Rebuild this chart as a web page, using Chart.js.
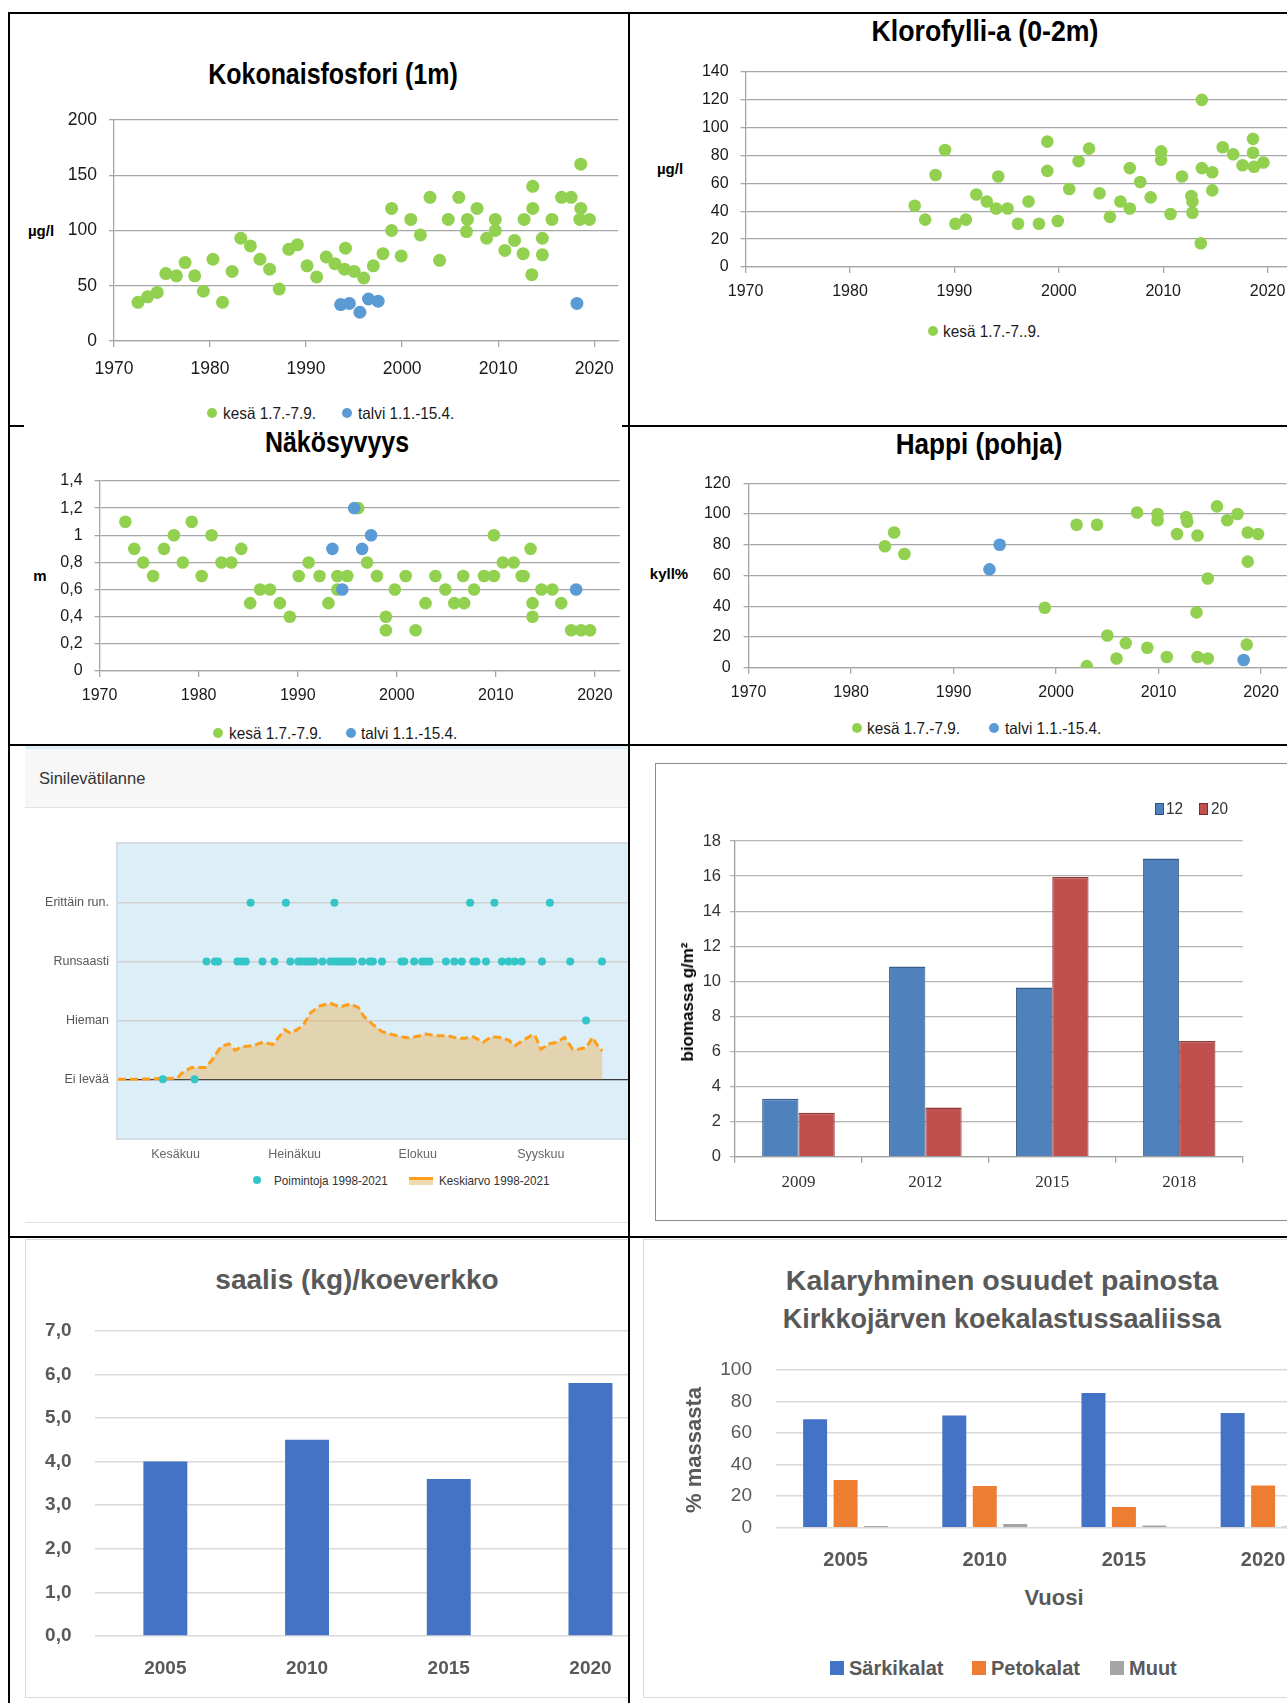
<!DOCTYPE html>
<html><head><meta charset="utf-8">
<script src="https://cdn.jsdelivr.net/npm/chart.js@4/dist/chart.umd.min.js"></script>
<style>
html,body{margin:0;padding:0;width:1287px;height:1703px;overflow:hidden;background:#fff;}
.col{position:absolute;top:0;height:1703px;overflow:hidden;}
.t{position:absolute;white-space:nowrap;line-height:1;}
.ln{position:absolute;background:#000;z-index:20;}
</style></head><body>
<div id="L" class="col" style="left:0;width:628px"></div>
<div id="R" class="col" style="left:629px;width:658px"></div>
<script>
// ---------------- DATA ----------------
// Kokonaisfosfori (1m), µg/l
const tpSummerYear = [1972.5,1973.5,1974.5,1975.4,1976.5,1977.4,1978.4,1979.3,1980.3,1981.3,1982.3,1983.2,1984.2,1985.2,1986.2,1987.2,1988.2,1989.1,1990.1,1991.1,1992.1,1993.0,1994.0,1994.1,1995.0,1996.0,1997.0,1998.0,1998.9,1998.9,1999.9,2000.9,2001.9,2002.9,2003.9,2004.8,2005.9,2006.8,2006.7,2007.8,2008.8,2009.7,2009.7,2010.7,2011.7,2012.6,2012.7,2013.6,2013.6,2013.5,2014.6,2014.6,2015.6,2016.6,2017.6,2018.6,2018.6,2018.5,2019.5];
const tpSummer = [35,40,44,61,59,71,59,45,74,35,63,93,86,74,65,47,83,87,68,58,76,70,65,84,63,57,68,79,120,100,77,110,96,130,73,110,130,110,99,120,93,110,100,82,91,79,110,140,120,60,93,78,110,130,130,160,120,110,110];
const tpWinterYear = [1993.6,1994.5,1995.6,1996.5,1997.5,2018.2];
const tpWinter = [33,34,26,38,36,34];
// Klorofylli-a (0-2m), µg/l
const chlYear = [1986.2,1987.2,1988.2,1989.1,1990.1,1991.1,1992.1,1993.1,1994.0,1994.2,1995.1,1996.1,1997.1,1998.1,1998.9,1998.9,1999.9,2001.0,2001.9,2002.9,2003.9,2004.9,2005.9,2006.8,2006.8,2007.8,2008.8,2009.8,2009.8,2010.7,2011.8,2012.7,2012.8,2012.8,2013.7,2013.7,2013.6,2014.7,2014.7,2015.7,2016.7,2017.6,2018.6,2018.6,2018.7,2019.6];
const chlSummer = [44,34,66,84,31,34,52,47,42,65,42,31,47,31,90,69,33,56,76,85,53,36,47,71,42,61,50,83,77,38,65,51,47,39,120,71,17,68,55,86,81,73,92,82,72,75];
// Näkösyvyys, m
const secSummerYear = [1972.6,1973.5,1974.4,1975.4,1976.5,1977.5,1978.4,1979.3,1980.3,1981.3,1982.3,1983.3,1984.3,1985.2,1986.2,1987.2,1988.2,1989.2,1990.1,1991.1,1992.2,1993.1,1994.0,1994.0,1995.0,1996.1,1997.0,1998.0,1998.9,1998.9,1999.8,2000.9,2001.9,2002.9,2003.9,2004.9,2005.8,2006.8,2006.7,2007.8,2008.8,2009.8,2009.8,2010.7,2011.8,2012.6,2012.8,2013.5,2013.7,2013.7,2014.6,2015.7,2016.6,2017.6,2018.6,2019.5];
const secSummer = [1.1,0.9,0.8,0.7,0.9,1.0,0.8,1.1,0.7,1.0,0.8,0.8,0.9,0.5,0.6,0.6,0.5,0.4,0.7,0.8,0.7,0.5,0.7,0.6,0.7,1.2,0.8,0.7,0.4,0.3,0.6,0.7,0.3,0.5,0.7,0.6,0.5,0.5,0.7,0.6,0.7,0.7,1.0,0.8,0.8,0.7,0.7,0.9,0.5,0.4,0.6,0.6,0.5,0.3,0.3,0.3];
const secWinterYear = [1993.5,1994.5,1995.7,1996.5,1997.4,2018.1];
const secWinter = [0.9,0.6,1.2,0.9,1.0,0.6];
// Happi (pohja), kyll%
const oxSummerYear = [1983.3,1984.2,1985.2,1998.9,2002.0,2003.0,2004.0,2005.0,2005.9,2006.8,2007.9,2008.9,2009.9,2009.9,2010.8,2011.8,2012.7,2012.8,2013.7,2013.8,2013.8,2014.8,2014.8,2015.7,2016.7,2017.7,2018.7,2018.7,2018.6,2019.7];
const oxSummer = [79,88,74,39,93,1,93,21,6,16,101,13,100,96,7,87,98,95,36,7,86,58,6,105,96,100,88,69,15,87];
const oxWinterYear = [1993.5,1994.5,2018.3];
const oxWinter = [64,80,5];
const yearTicks = [1970,1980,1990,2000,2010,2020];
// Sinilevätilanne (days from 1 June)
const levelLabels = ['Ei levää','Hieman','Runsaasti','Erittäin run.'];
const monthNames = ['Kesäkuu','Heinäkuu','Elokuu','Syyskuu'];
const monthTickDays = [14.5,44.5,75.5,106.5];
const meanDay = [0,5,11,15,16,18.5,22,23.5,26,28,29.5,31,34,36.5,39,42,43.5,46.5,48.5,51,53.5,56,58.5,60.5,62,64,66.5,69,71.5,73.5,76,77.5,80,83,86,87.5,89.5,92,94,96.5,98.5,100,102,104,105,106.5,108.5,110.5,112.5,114.5,116,118,119.5,121,122];
const meanLevel = [0,0,0.01,0.02,0.1,0.2,0.2,0.31,0.56,0.6,0.49,0.55,0.57,0.63,0.59,0.84,0.78,0.9,1.13,1.25,1.29,1.23,1.28,1.22,1.06,0.94,0.81,0.76,0.72,0.7,0.74,0.77,0.74,0.74,0.69,0.7,0.72,0.63,0.72,0.71,0.66,0.57,0.66,0.74,0.75,0.51,0.6,0.63,0.71,0.51,0.51,0.54,0.71,0.55,0.48];
const pickErittain = [33.4,42.3,54.5,88.7,94.8,108.8];
const pickRunsaasti = [22.3,24.4,25.2,30.1,31.1,32.2,36.4,39.4,43.4,45.4,46.2,47.1,47.9,48.7,49.5,51.5,53.5,54.4,55.2,56.0,56.8,57.6,58.4,59.2,61.5,63.4,64.2,66.5,71.4,72.1,74.6,76.6,77.4,78.5,82.6,84.7,86.6,89.5,90.3,92.7,96.7,98.4,99.9,101.7,106.8,113.9,121.9];
const pickHieman = [117.9];
const pickEi = [11.3,19.3];
// Biomassa g/m²
const bioYears = ['2009','2012','2015','2018'];
const bio12 = [3.3,10.85,9.65,17.0];
const bio20 = [2.5,2.8,15.95,6.6];
// saalis (kg)/koeverkko
const catchYears = ['2005','2010','2015','2020'];
const catchKg = [4.0,4.5,3.6,5.8];
// Kalaryhmien osuudet (%)
const groupYears = ['2005','2010','2015','2020'];
const sarki = [68.7,71.2,85.4,72.7];
const peto = [30.2,26.4,13.1,26.8];
const muut = [1.0,2.3,1.4,0.8];

// ---------------- HELPERS ----------------
const SANS = '"Liberation Sans",Arial,sans-serif';
const SERIF = '"Liberation Serif","Times New Roman",serif';
const GREEN = '#92D050', BLUE = '#5B9BD5', GRID = '#A6A6A6';
const COLS = {L:{el:document.getElementById('L'),x0:0}, R:{el:document.getElementById('R'),x0:629}};

function box(col, x, y, w, h, css){
  const d = document.createElement('div');
  Object.assign(d.style, {position:'absolute', left:(x-col.x0)+'px', top:y+'px', width:w+'px', height:h+'px'}, css||{});
  col.el.appendChild(d); return d;
}
function T(col, x, y, s, css, anchor, sx){
  const d = document.createElement('div'); d.className='t'; d.textContent = s;
  const k = sx ? ' scaleX('+sx+')' : '';
  const tr = anchor==='l' ? 'translate(0,-50%)'+k : anchor==='r' ? 'translate(-100%,-50%)'+k : 'translate(-50%,-50%)'+k;
  Object.assign(d.style, {left:(x-col.x0)+'px', top:y+'px', transform:tr, transformOrigin: anchor==='l' ? '0 50%' : '50% 50%'}, css||{});
  col.el.appendChild(d); return d;
}
function legendItem(col, mx, my, m, label, tx, css, sx){
  box(col, mx-m.w/2, my-m.h/2, m.w, m.h, {background:m.color, borderRadius:m.round?'50%':'0', boxSizing:'border-box', border:m.border?('1px solid '+m.border):'none'});
  T(col, tx, my, label, css, 'l', sx);
}
function canvasAt(col, b){
  const c = document.createElement('canvas'); c.width=b.w; c.height=b.h;
  Object.assign(c.style,{position:'absolute', left:(b.x-col.x0)+'px', top:b.y+'px'});
  col.el.appendChild(c); return c;
}
function geom(b, p){ return {Wy:p.l-b.x, pt:p.t-b.y, pr:b.x+b.w-p.r, Hx:b.y+b.h-p.b}; }
const pts = (xs, ys) => xs.map((x,i)=>({x, y:ys[i]}));
const bgPlugin = { id:'bg', beforeDraw(chart, args, o){
  if(!o || !o.color) return; const a = chart.chartArea, ctx = chart.ctx; ctx.save();
  ctx.fillStyle = o.color; ctx.fillRect(a.left, a.top, a.right-a.left, a.bottom-a.top);
  if(o.border){ ctx.strokeStyle=o.border; ctx.lineWidth=2; ctx.strokeRect(a.left-1, a.top-1, a.right-a.left+2, a.bottom-a.top+2); }
  ctx.restore(); } };

function scatterPanel(o){
  const g = geom(o.box, o.plot);
  const c = canvasAt(o.col, o.box);
  const font = {family:SANS, size:o.fs};
  new Chart(c, {
    type:'scatter',
    data:{datasets:o.series.map((s,i)=>({label:s.label, data:pts(s.xs, s.ys), pointRadius:o.r, pointHoverRadius:o.r,
      pointBackgroundColor:s.color, backgroundColor:s.color, borderColor:s.color, pointBorderWidth:0, order:o.series.length-i}))},
    options:{responsive:false, animation:false, devicePixelRatio:1,
      layout:{padding:{top:g.pt, right:g.pr, left:0, bottom:0}},
      plugins:{legend:{display:false}, tooltip:{enabled:false}},
      scales:{
        x:{type:'linear', min:1970, max:2022.5,
          afterBuildTicks:s=>{ s.ticks = yearTicks.map(v=>({value:v})); },
          afterFit:s=>{ s.height = g.Hx; },
          grid:{drawOnChartArea:false, drawTicks:true, tickLength:6, color:GRID, lineWidth:1.3},
          border:{display:true, color:GRID, width:1.3},
          ticks:{callback:v=>String(v), font, color:'#1a1a1a', padding:o.xpad, maxRotation:0, autoSkip:false}},
        y:{min:o.ymin, max:o.ymax,
          afterFit:s=>{ s.width = g.Wy; },
          grid:{color:GRID, lineWidth:1.3, tickLength:5},
          border:{display:true, color:GRID, width:1.3},
          ticks:{stepSize:o.ystep, callback:o.yfmt||(v=>String(v)), font, color:'#1a1a1a', padding:o.ypad}}
      }}
  });
}

// ---------------- PANEL 1: Kokonaisfosfori ----------------
const L = COLS.L, R = COLS.R;
const titleCss = (fs)=>({font:'bold '+fs+'px '+SANS, color:'#000'});
const legCss = {font:'16.5px '+SANS, color:'#1a1a1a'};
const LSX = 0.93;
T(L, 333, 74, 'Kokonaisfosfori (1m)', titleCss(29), 'c', 0.86);
T(L, 41, 230, 'µg/l', {font:'bold 15px '+SANS, color:'#000'});
scatterPanel({col:L, box:{x:30,y:95,w:596,h:300}, plot:{l:114,t:120,r:620,b:341}, fs:17.5, r:6.5, xpad:12, ypad:12,
  ymin:0, ymax:200, ystep:50,
  series:[{label:'kesä 1.7.-7.9.', xs:tpSummerYear, ys:tpSummer, color:GREEN},{label:'talvi 1.1.-15.4.', xs:tpWinterYear, ys:tpWinter, color:BLUE}]});
legendItem(L, 212, 413, {w:10,h:10,color:GREEN,round:true}, 'kesä 1.7.-7.9.', 223, legCss, LSX);
legendItem(L, 347, 413, {w:10,h:10,color:BLUE,round:true}, 'talvi 1.1.-15.4.', 358, legCss, LSX);

// ---------------- PANEL 2: Klorofylli ----------------
T(R, 985, 31, 'Klorofylli-a (0-2m)', titleCss(30), 'c', 0.89);
T(R, 670, 168, 'µg/l', {font:'bold 15px '+SANS, color:'#000'});
scatterPanel({col:R, box:{x:660,y:47,w:645,h:273}, plot:{l:745.6,t:72,r:1293.7,b:267}, fs:16, r:6.3, xpad:9, ypad:12,
  ymin:0, ymax:140, ystep:20,
  series:[{label:'kesä 1.7.-7..9.', xs:chlYear, ys:chlSummer, color:GREEN}]});
legendItem(R, 933, 331, {w:10,h:10,color:GREEN,round:true}, 'kesä 1.7.-7..9.', 943, legCss, LSX);

// ---------------- PANEL 3: Näkösyvyys ----------------
T(L, 337, 442, 'Näkösyvyys', titleCss(29), 'c', 0.86);
T(L, 40, 575, 'm', {font:'bold 15px '+SANS, color:'#000'});
scatterPanel({col:L, box:{x:20,y:456,w:606,h:262}, plot:{l:99.6,t:481,r:619.8,b:671}, fs:16, r:6.3, xpad:9, ypad:12,
  ymin:0, ymax:1.4, ystep:0.2, yfmt:v=>String(Math.round(v*10)/10).replace('.',','),
  series:[{label:'kesä 1.7.-7.9.', xs:secSummerYear, ys:secSummer, color:GREEN},{label:'talvi 1.1.-15.4.', xs:secWinterYear, ys:secWinter, color:BLUE}]});
legendItem(L, 218, 733, {w:10,h:10,color:GREEN,round:true}, 'kesä 1.7.-7.9.', 229, legCss, LSX);
legendItem(L, 351, 733, {w:10,h:10,color:BLUE,round:true}, 'talvi 1.1.-15.4.', 361, legCss, LSX);

// ---------------- PANEL 4: Happi ----------------
T(R, 979, 444, 'Happi (pohja)', titleCss(30), 'c', 0.87);
T(R, 669, 573, 'kyll%', {font:'bold 15px '+SANS, color:'#000'});
scatterPanel({col:R, box:{x:670,y:458,w:625,h:257}, plot:{l:748.6,t:483.3,r:1286.7,b:667.7}, fs:16, r:6.3, xpad:9, ypad:13,
  ymin:0, ymax:120, ystep:20,
  series:[{label:'kesä 1.7.-7.9.', xs:oxSummerYear, ys:oxSummer, color:GREEN},{label:'talvi 1.1.-15.4.', xs:oxWinterYear, ys:oxWinter, color:BLUE}]});
legendItem(R, 857, 728, {w:10,h:10,color:GREEN,round:true}, 'kesä 1.7.-7.9.', 867, legCss, LSX);
legendItem(R, 994, 728, {w:10,h:10,color:BLUE,round:true}, 'talvi 1.1.-15.4.', 1005, legCss, LSX);

// ---------------- PANEL 5: Sinilevätilanne ----------------
box(L, 24.5, 746, 604, 3, {background:'#DCEEF8'});
box(L, 24.5, 749, 604, 58, {background:'#F7F7F7', borderBottom:'1px solid #E2E2E2'});
T(L, 39, 778, 'Sinilevätilanne', {font:'16.5px '+SANS, color:'#333'}, 'l');
box(L, 24.5, 1222, 604, 1, {background:'#E2E2E2'});
(function(){
  const b = {x:24, y:824, w:666, h:344}, p = {l:118, t:844, r:118+140*3.97, b:1138};
  const g = geom(b, p);
  const c = canvasAt(L, b);
  const f = {family:SANS, size:12.5};
  const picks = [].concat(
    pickEi.map(d=>({x:d,y:0})), pickHieman.map(d=>({x:d,y:1})),
    pickRunsaasti.map(d=>({x:d,y:2})), pickErittain.map(d=>({x:d,y:3})));
  new Chart(c, {
    type:'line',
    data:{datasets:[
      {label:'Poimintoja 1998-2021', data:picks, showLine:false, pointRadius:4, pointHoverRadius:4,
        pointBackgroundColor:'#33C5C7', pointBorderWidth:0, backgroundColor:'#33C5C7', borderColor:'#33C5C7', order:0},
      {label:'Keskiarvo 1998-2021', data:pts(meanDay, meanLevel), borderColor:'#FF9E1B', borderWidth:3, borderDash:[8,4],
        backgroundColor:'rgba(235,180,90,0.45)', fill:'origin', pointRadius:0, tension:0, order:1}
    ]},
    options:{responsive:false, animation:false, devicePixelRatio:1,
      layout:{padding:{top:g.pt, right:g.pr, left:0, bottom:0}},
      plugins:{legend:{display:false}, tooltip:{enabled:false}, bg:{color:'#DCEEF8', border:'#D3DDE3'}},
      scales:{
        x:{type:'linear', min:0, max:140,
          afterBuildTicks:s=>{ s.ticks = monthTickDays.map(v=>({value:v})); },
          afterFit:s=>{ s.height = g.Hx; },
          grid:{display:false}, border:{display:false},
          ticks:{callback:(v,i)=>monthNames[i], font:f, color:'#666', padding:1, maxRotation:0, autoSkip:false}},
        y:{min:-1, max:4,
          afterBuildTicks:s=>{ s.ticks = [0,1,2,3].map(v=>({value:v})); },
          afterFit:s=>{ s.width = g.Wy; },
          grid:{drawTicks:false, color:ctx=>ctx.tick && ctx.tick.value===0 ? '#3a3a3a' : '#D0D0D0', lineWidth:ctx=>ctx.tick && ctx.tick.value===0 ? 1.3 : 1.5},
          border:{display:false},
          ticks:{callback:v=>levelLabels[v], font:f, color:'#555', padding:9}}
      }},
    plugins:[bgPlugin]
  });
})();
box(L, 257-4, 1180-4, 8, 8, {background:'#33C5C7', borderRadius:'50%'});
T(L, 274, 1180, 'Poimintoja 1998-2021', {font:'13px '+SANS, color:'#333'}, 'l', 0.9);
box(L, 409, 1177, 24, 8, {background:'#F2D9B0', borderTop:'3px solid #FF9E1B', boxSizing:'border-box'});
T(L, 439, 1180, 'Keskiarvo 1998-2021', {font:'13px '+SANS, color:'#333'}, 'l', 0.9);

// ---------------- PANEL 6: biomassa ----------------
box(R, 655, 763, 700, 458, {border:'1.5px solid #8C8C8C', boxSizing:'border-box'});
(function(){
  const b = {x:660, y:816, w:590, h:384}, p = {l:735, t:841, r:1242.6, b:1156.7};
  const g = geom(b, p);
  const c = canvasAt(R, b);
  new Chart(c, {
    type:'bar',
    data:{labels:bioYears, datasets:[
      {label:'12', data:bio12, backgroundColor:'#4F81BD', borderColor:'#385D8A', borderWidth:{top:1.5,left:1,right:1,bottom:0}, borderSkipped:false},
      {label:'20', data:bio20, backgroundColor:'#C0504D', borderColor:'#8C3836', borderWidth:{top:1.5,left:1,right:1,bottom:0}, borderSkipped:false}
    ]},
    options:{responsive:false, animation:false, devicePixelRatio:1,
      datasets:{bar:{barPercentage:1, categoryPercentage:0.572}},
      layout:{padding:{top:g.pt, right:g.pr, left:0, bottom:0}},
      plugins:{legend:{display:false}, tooltip:{enabled:false}},
      scales:{
        x:{afterFit:s=>{ s.height = g.Hx; },
          grid:{offset:true, drawOnChartArea:false, drawTicks:true, tickLength:6, color:'#A0A0A0', lineWidth:1.3},
          border:{display:true, color:'#A0A0A0', width:1.3},
          ticks:{font:{family:SERIF, size:17}, color:'#333', padding:10}},
        y:{min:0, max:18, afterFit:s=>{ s.width = g.Wy; },
          grid:{color:'#B4B4B4', lineWidth:1.3, tickLength:5},
          border:{display:true, color:'#A0A0A0', width:1.3},
          ticks:{stepSize:2, font:{family:SANS, size:16.5}, color:'#333', padding:9}}
      }}
  });
})();
const b6 = document.createElement('div'); b6.className='t'; b6.textContent='biomassa g/m²';
Object.assign(b6.style, {left:(687.5-629)+'px', top:'1002px', transform:'translate(-50%,-50%) rotate(-90deg)', font:'bold 17px '+SANS, color:'#000'});
R.el.appendChild(b6);
legendItem(R, 1159, 809, {w:9,h:12,color:'#4F81BD',border:'#2F4F7A'}, '12', 1166, {font:'17px '+SANS, color:'#333'}, 0.9);
legendItem(R, 1203, 809, {w:9,h:12,color:'#C0504D',border:'#7A2E2C'}, '20', 1211, {font:'17px '+SANS, color:'#333'}, 0.9);

// ---------------- PANEL 7: saalis ----------------
box(L, 24.5, 1239, 610, 459, {border:'1px solid #D9D9D9', boxSizing:'border-box'});
T(L, 357, 1280, 'saalis (kg)/koeverkko', {font:'bold 28px '+SANS, color:'#595959'});
(function(){
  const b = {x:25, y:1292, w:680, h:398}, p = {l:94.5, t:1330.7, r:661.3, b:1636};
  const g = geom(b, p);
  const c = canvasAt(L, b);
  const f = {family:SANS, size:19, weight:'bold'};
  new Chart(c, {
    type:'bar',
    data:{labels:catchYears, datasets:[{label:'saalis', data:catchKg, backgroundColor:'#4472C4', borderWidth:0}]},
    options:{responsive:false, animation:false, devicePixelRatio:1,
      datasets:{bar:{barPercentage:0.31, categoryPercentage:1}},
      layout:{padding:{top:g.pt, right:g.pr, left:0, bottom:0}},
      plugins:{legend:{display:false}, tooltip:{enabled:false}},
      scales:{
        x:{afterFit:s=>{ s.height = g.Hx; }, grid:{display:false}, border:{display:false},
          ticks:{font:f, color:'#595959', padding:13}},
        y:{min:0, max:7, afterFit:s=>{ s.width = g.Wy; },
          grid:{color:'#D9D9D9', lineWidth:1.5, drawTicks:false}, border:{display:false},
          ticks:{stepSize:1, callback:v=>v.toFixed(1).replace('.',','), font:f, color:'#595959', padding:23}}
      }}
  });
})();

// ---------------- PANEL 8: Kalaryhmien osuudet ----------------
box(R, 643, 1239, 700, 459, {border:'1px solid #D9D9D9', boxSizing:'border-box'});
T(R, 1002, 1280, 'Kalaryhminen osuudet painosta', {font:'bold 28.5px '+SANS, color:'#595959'});
T(R, 1002, 1319, 'Kirkkojärven koekalastussaaliissa', {font:'bold 27px '+SANS, color:'#595959'});
(function(){
  const b = {x:700, y:1332, w:640, h:248}, p = {l:776, t:1370, r:1332.7, b:1527.7};
  const g = geom(b, p);
  const c = canvasAt(R, b);
  new Chart(c, {
    type:'bar',
    data:{labels:groupYears, datasets:[
      {label:'Särkikalat', data:sarki, backgroundColor:'#4472C4', borderWidth:0},
      {label:'Petokalat', data:peto, backgroundColor:'#ED7D31', borderWidth:0},
      {label:'Muut', data:muut, backgroundColor:'#A5A5A5', borderWidth:0}
    ]},
    options:{responsive:false, animation:false, devicePixelRatio:1,
      datasets:{bar:{barPercentage:0.787, categoryPercentage:0.657}},
      layout:{padding:{top:g.pt, right:g.pr, left:0, bottom:0}},
      plugins:{legend:{display:false}, tooltip:{enabled:false}},
      scales:{
        x:{afterFit:s=>{ s.height = g.Hx; }, grid:{display:false}, border:{display:false},
          ticks:{font:{family:SANS, size:20, weight:'bold'}, color:'#595959', padding:13}},
        y:{min:0, max:100, afterFit:s=>{ s.width = g.Wy; },
          grid:{color:'#D9D9D9', lineWidth:1.5, drawTicks:false}, border:{display:false},
          ticks:{stepSize:20, font:{family:SANS, size:19}, color:'#595959', padding:24}}
      }}
  });
})();
T(R, 1054, 1598, 'Vuosi', {font:'bold 22px '+SANS, color:'#595959'});
const r8 = document.createElement('div'); r8.className='t'; r8.textContent='% massasta';
Object.assign(r8.style, {left:(694-629)+'px', top:'1450px', transform:'translate(-50%,-50%) rotate(-90deg)', font:'bold 22px '+SANS, color:'#595959'});
R.el.appendChild(r8);
const lg8 = {font:'bold 20px '+SANS, color:'#595959'};
legendItem(R, 837, 1668, {w:13.5,h:13.5,color:'#4472C4'}, 'Särkikalat', 849, lg8);
legendItem(R, 979, 1668, {w:13.5,h:13.5,color:'#ED7D31'}, 'Petokalat', 991, lg8);
legendItem(R, 1117, 1668, {w:13.5,h:13.5,color:'#A5A5A5'}, 'Muut', 1129, lg8);

// ---------------- TABLE BORDERS ----------------
function ln(x,y,w,h){ const d=document.createElement('div'); d.className='ln'; Object.assign(d.style,{left:x+'px',top:y+'px',width:w+'px',height:h+'px'}); document.body.appendChild(d); }
ln(8,12,1279,2);           // top
ln(8,12,2,1691);           // left
ln(628,12,2,1691);         // middle
ln(8,425,16,2); ln(622,425,665,2); // row 1/2
ln(8,744,1279,2);          // row 2/3
ln(8,1236,1279,2);         // row 3/4
</script></body></html>
